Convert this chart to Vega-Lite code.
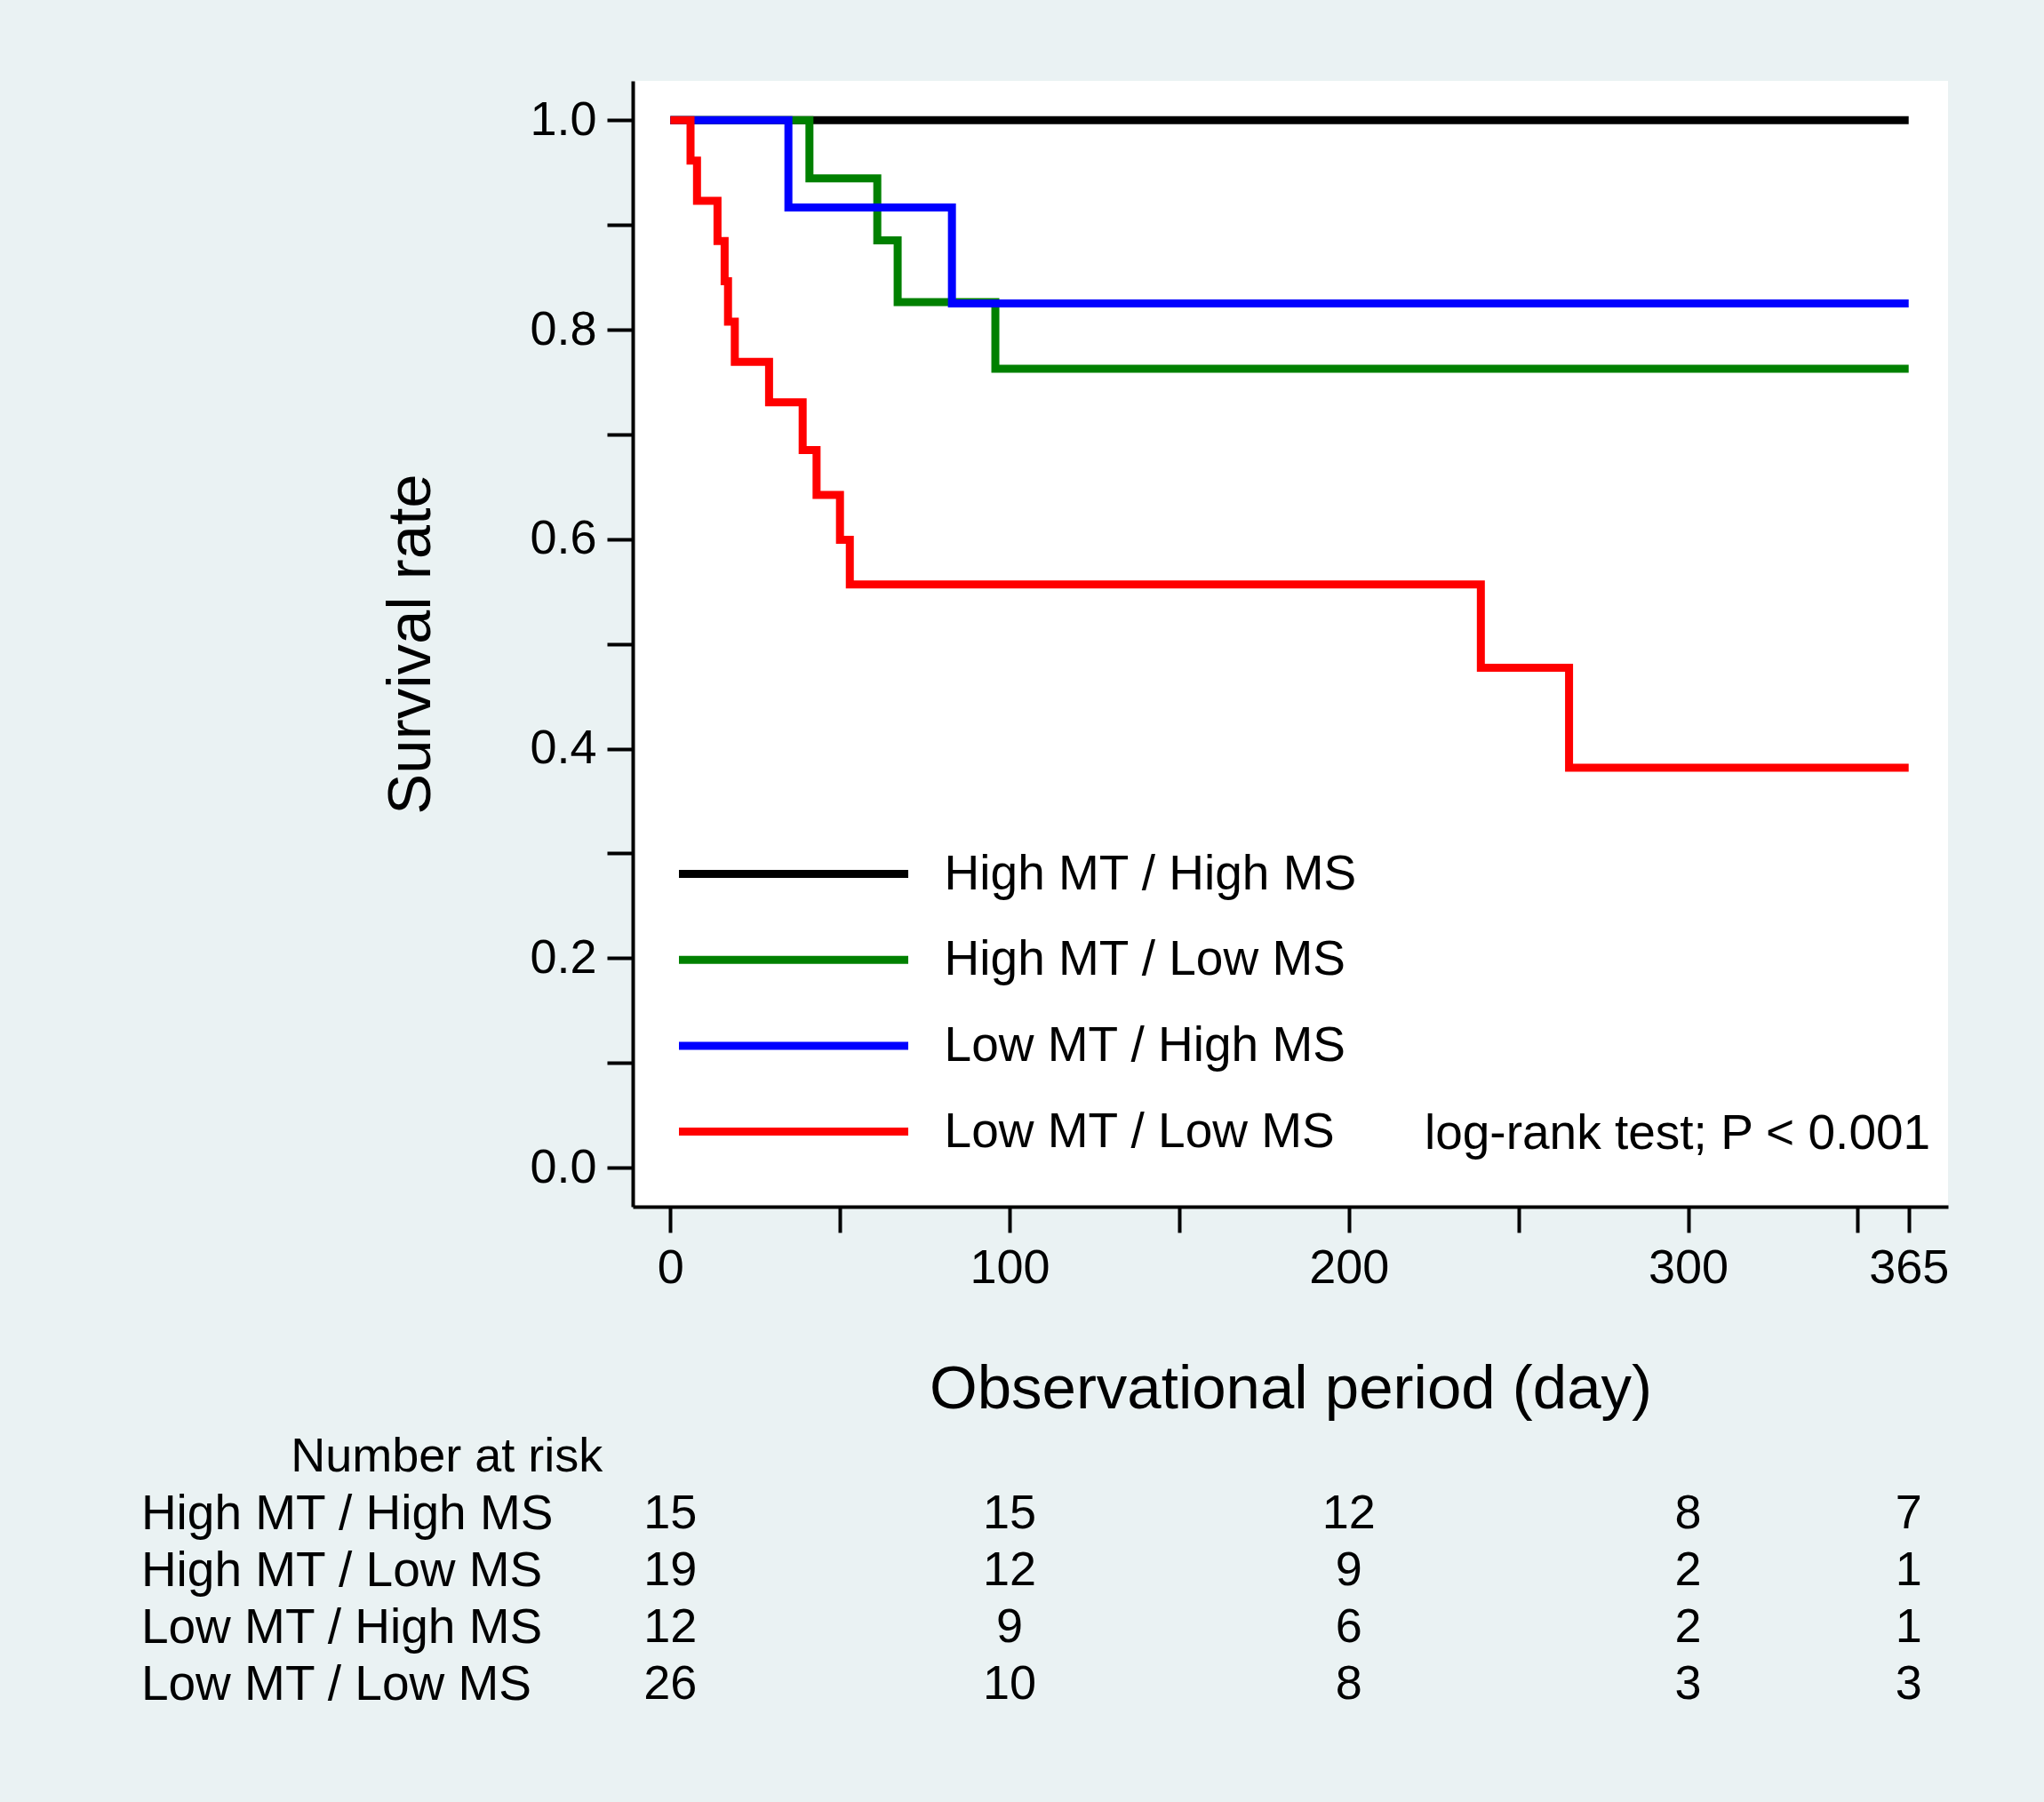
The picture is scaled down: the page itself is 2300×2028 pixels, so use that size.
{
  "$schema": "https://vega.github.io/schema/vega-lite/v6.json",
  "autosize": {"type": "none"},
  "padding": {"left": 712, "top": 91, "right": 1588, "bottom": 1937},
  "background": "#EAF2F3",
  "spacing": 14,
  "config": {
    "font": "Liberation Sans",
    "view": {"stroke": null},
    "axis": {"labelColor": "black", "titleColor": "black", "domainColor": "black", "tickColor": "black", "titleFontWeight": "normal", "grid": false}
  },
  "vconcat": [
    {
      "width": 1480,
      "height": 1267,
      "view": {"fill": "white", "stroke": null},
      "layer": [
        {
          "data": {
            "values": [
              {"group": "High MT / High MS", "day": 0, "surv": 1},
              {"group": "High MT / High MS", "day": 365, "surv": 1},
              {"group": "High MT / Low MS", "day": 0, "surv": 1},
              {"group": "High MT / Low MS", "day": 41.0, "surv": 0.9444},
              {"group": "High MT / Low MS", "day": 61.0, "surv": 0.8854},
              {"group": "High MT / Low MS", "day": 67.0, "surv": 0.8264},
              {"group": "High MT / Low MS", "day": 95.8, "surv": 0.7628},
              {"group": "High MT / Low MS", "day": 365, "surv": 0.7628},
              {"group": "Low MT / High MS", "day": 0, "surv": 1},
              {"group": "Low MT / High MS", "day": 34.8, "surv": 0.9167},
              {"group": "Low MT / High MS", "day": 83.0, "surv": 0.825},
              {"group": "Low MT / High MS", "day": 365, "surv": 0.825},
              {"group": "Low MT / Low MS", "day": 0, "surv": 1},
              {"group": "Low MT / Low MS", "day": 5.95, "surv": 0.9615},
              {"group": "Low MT / Low MS", "day": 7.86, "surv": 0.9231},
              {"group": "Low MT / Low MS", "day": 13.9, "surv": 0.8846},
              {"group": "Low MT / Low MS", "day": 16.0, "surv": 0.8462},
              {"group": "Low MT / Low MS", "day": 17.0, "surv": 0.8077},
              {"group": "Low MT / Low MS", "day": 19.0, "surv": 0.7692},
              {"group": "Low MT / Low MS", "day": 29.1, "surv": 0.7308},
              {"group": "Low MT / Low MS", "day": 39.0, "surv": 0.6851},
              {"group": "Low MT / Low MS", "day": 43.1, "surv": 0.6423},
              {"group": "Low MT / Low MS", "day": 50.0, "surv": 0.5995},
              {"group": "Low MT / Low MS", "day": 52.9, "surv": 0.5567},
              {"group": "Low MT / Low MS", "day": 238.9, "surv": 0.4772},
              {"group": "Low MT / Low MS", "day": 264.9, "surv": 0.3817},
              {"group": "Low MT / Low MS", "day": 365, "surv": 0.3817}
            ]
          },
          "mark": {"type": "line", "interpolate": "step-after", "strokeWidth": 9, "strokeCap": "butt", "strokeJoin": "miter"},
          "encoding": {
            "x": {
              "field": "day", "type": "quantitative",
              "scale": {"domain": [-11.08, 376.6], "nice": false, "zero": false},
              "axis": {
                "values": [0, 50, 100, 150, 200, 250, 300, 350, 365],
                "format": "d",
                "labelExpr": "(datum.value % 100 === 0 || datum.value === 365) ? datum.label : ''",
                "title": "Observational period (day)",
                "titleY": 226, "titleBaseline": "alphabetic", "titleFontSize": 69,
                "tickSize": 29, "tickWidth": 4, "domainWidth": 4,
                "labelFontSize": 54, "labelPadding": 13, "labelFlush": false, "labelOverlap": false
              }
            },
            "y": {
              "field": "surv", "type": "quantitative",
              "scale": {"domain": [-0.0373, 1.0376], "nice": false, "zero": false},
              "axis": {
                "values": [0, 0.1, 0.2, 0.3, 0.4, 0.5, 0.6, 0.7, 0.8, 0.9, 1],
                "labelExpr": "round(datum.value * 10) % 2 === 0 ? format(datum.value, '.1f') : ''",
                "title": "Survival rate",
                "titleX": -229, "titleBaseline": "alphabetic", "titleFontSize": 69,
                "tickSize": 29, "tickWidth": 4, "domainWidth": 4,
                "labelFontSize": 54, "labelPadding": 12, "labelFlush": false, "labelOverlap": false
              }
            },
            "color": {
              "field": "group", "type": "nominal",
              "scale": {
                "domain": ["High MT / High MS", "High MT / Low MS", "Low MT / High MS", "Low MT / Low MS"],
                "range": ["#000000", "#008000", "#0000FF", "#FF0000"]
              },
              "legend": {
                "title": null, "orient": "none", "legendX": 21.5, "legendY": 862,
                "direction": "vertical", "symbolType": "M-5,0H5", "symbolSize": 2663,
                "symbolStrokeWidth": 9, "symbolOffset": 129, "labelFontSize": 55, "labelOffset": 139.1,
                "rowPadding": 37.7, "padding": 0, "offset": 0, "labelLimit": 0,
                "labelColor": "black", "labelBaseline": "middle"
              }
            }
          }
        },
        {
          "data": {"values": [{"note": "log-rank test; P < 0.001"}]},
          "mark": {"type": "text", "align": "right", "baseline": "alphabetic", "fontSize": 55, "color": "black"},
          "encoding": {
            "x": {"datum": 371.4, "type": "quantitative"},
            "y": {"datum": 0.0178, "type": "quantitative"},
            "text": {"field": "note", "type": "nominal"}
          }
        }
      ]
    },
    {
      "width": 1480,
      "height": 255.6,
      "data": {
        "values": [
          {"group": "High MT / High MS", "day": 0, "n": 15},
          {"group": "High MT / High MS", "day": 100, "n": 15},
          {"group": "High MT / High MS", "day": 200, "n": 12},
          {"group": "High MT / High MS", "day": 300, "n": 8},
          {"group": "High MT / High MS", "day": 365, "n": 7},
          {"group": "High MT / Low MS", "day": 0, "n": 19},
          {"group": "High MT / Low MS", "day": 100, "n": 12},
          {"group": "High MT / Low MS", "day": 200, "n": 9},
          {"group": "High MT / Low MS", "day": 300, "n": 2},
          {"group": "High MT / Low MS", "day": 365, "n": 1},
          {"group": "Low MT / High MS", "day": 0, "n": 12},
          {"group": "Low MT / High MS", "day": 100, "n": 9},
          {"group": "Low MT / High MS", "day": 200, "n": 6},
          {"group": "Low MT / High MS", "day": 300, "n": 2},
          {"group": "Low MT / High MS", "day": 365, "n": 1},
          {"group": "Low MT / Low MS", "day": 0, "n": 26},
          {"group": "Low MT / Low MS", "day": 100, "n": 10},
          {"group": "Low MT / Low MS", "day": 200, "n": 8},
          {"group": "Low MT / Low MS", "day": 300, "n": 3},
          {"group": "Low MT / Low MS", "day": 365, "n": 3}
        ]
      },
      "mark": {"type": "text", "fontSize": 54, "align": "center", "baseline": "middle", "color": "black"},
      "encoding": {
        "x": {
          "field": "day", "type": "quantitative",
          "scale": {"domain": [-11.08, 376.6], "nice": false, "zero": false},
          "axis": null
        },
        "y": {
          "field": "group", "type": "nominal",
          "sort": ["High MT / High MS", "High MT / Low MS", "Low MT / High MS", "Low MT / Low MS"],
          "scale": {"type": "point", "padding": 0.5},
          "axis": {
            "title": "Number at risk", "titleAngle": 0, "titleAlign": "left", "titleBaseline": "alphabetic",
            "titleX": -385.3, "titleY": -16.5, "titleFontSize": 54,
            "labelAlign": "left", "labelBaseline": "middle", "labelPadding": 553.6, "labelFontSize": 55,
            "labelLimit": 0, "ticks": false, "tickSize": 0, "domain": false
          }
        },
        "text": {"field": "n", "type": "quantitative"}
      }
    }
  ]
}
